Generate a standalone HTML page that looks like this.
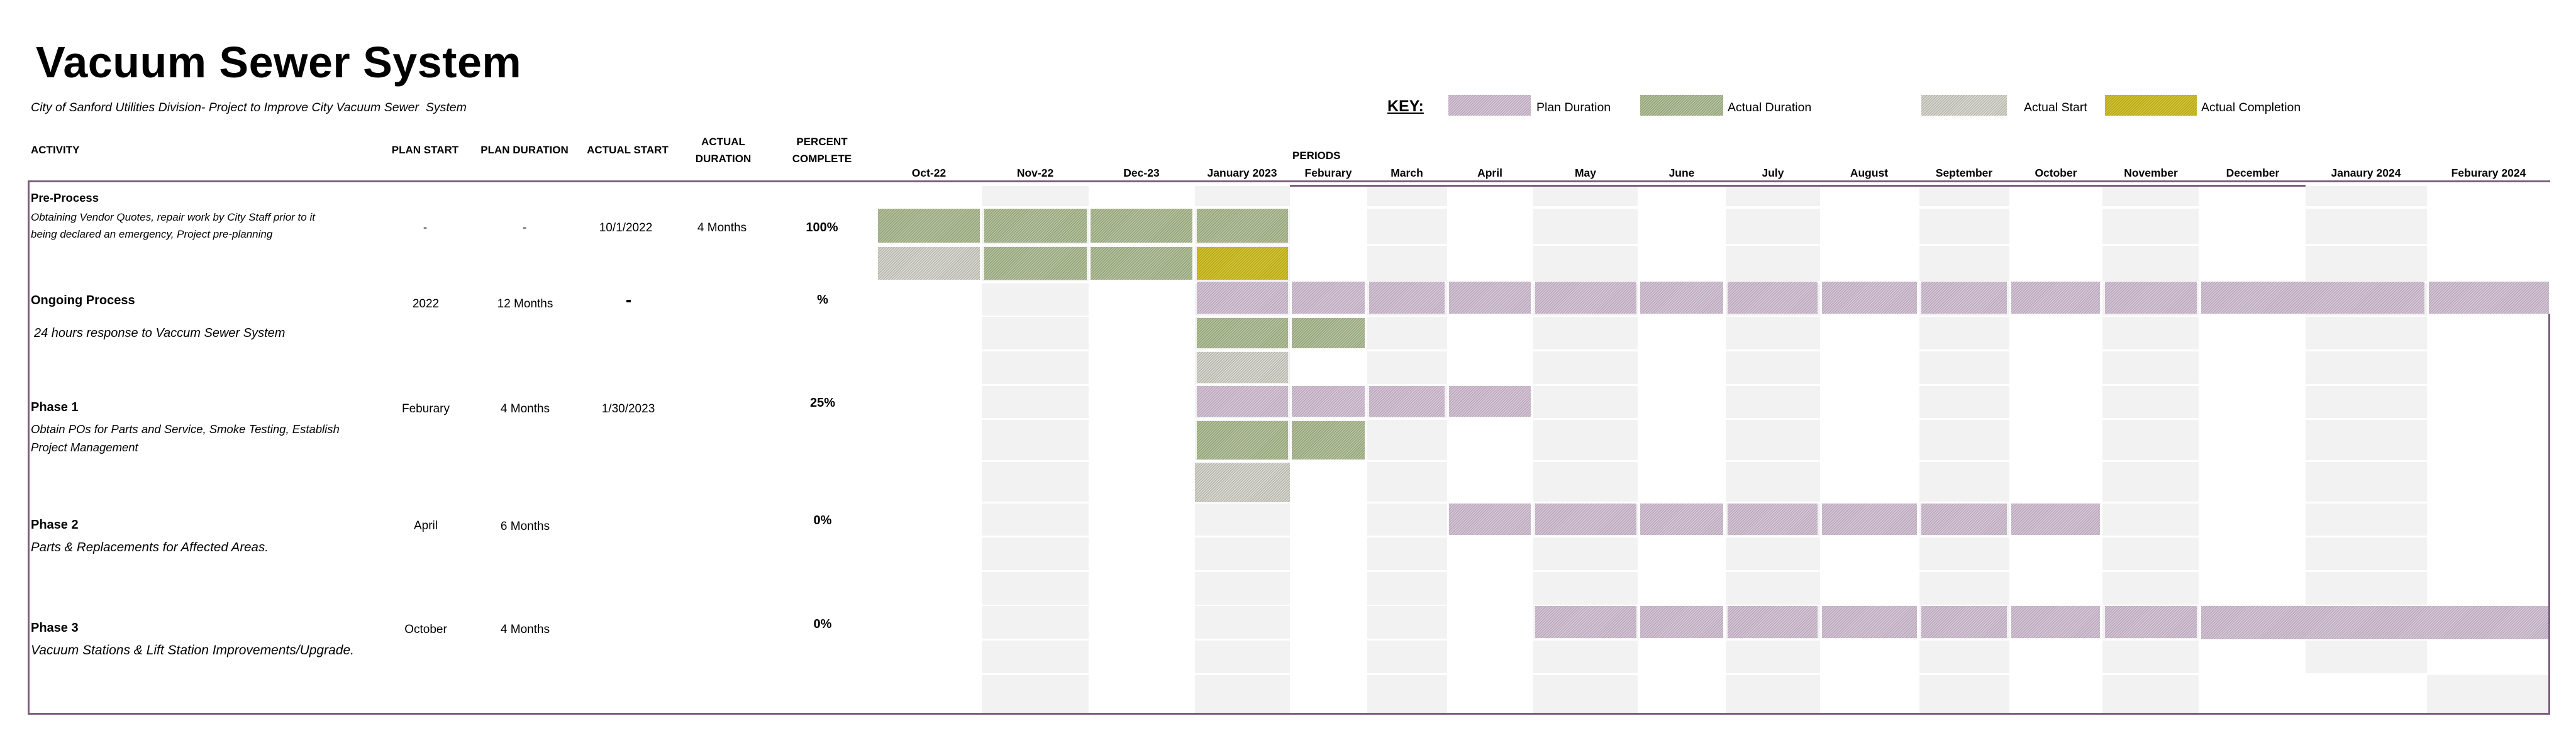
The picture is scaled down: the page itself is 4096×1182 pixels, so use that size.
<!DOCTYPE html>
<html>
<head>
<meta charset="utf-8">
<style>
html,body{margin:0;padding:0;background:#fff;}
#root{position:relative;width:4096px;height:1182px;overflow:hidden;background:#fff;font-family:"Liberation Sans",Arial,sans-serif;color:#000;}
.a{position:absolute;}
.t{position:absolute;white-space:nowrap;line-height:1;}
.ct{transform:translateX(-50%);}
.b{font-weight:bold;}
.i{font-style:italic;}
.g{position:absolute;background:#f2f2f2;}
.w{position:absolute;background:#fff;}
.ln{position:absolute;background:#7a5e7a;}
.pl{position:absolute;background:repeating-linear-gradient(135deg,#bba7bc 0 1.5px,#d6cad8 1.5px 3px);}
.ac{position:absolute;background:repeating-linear-gradient(135deg,#95a479 0 1.5px,#b9c4a3 1.5px 3px);}
.st{position:absolute;background:repeating-linear-gradient(135deg,#b6b6ad 0 1.5px,#dcdcd3 1.5px 3px);}
.co{position:absolute;background:repeating-linear-gradient(135deg,#b7a916 0 1.5px,#d3c53a 1.5px 3px);}
.hd{font-size:17px;font-weight:bold;}
.mo{font-size:17.5px;font-weight:bold;}
.v{font-size:19px;}
.pc{font-size:20px;font-weight:bold;}
</style>
</head>
<body>
<div id="root">

<!-- Title -->
<div class="t b" style="left:57px;top:64px;font-size:70px;letter-spacing:0.5px;">Vacuum Sewer System</div>
<div class="t i" style="left:49px;top:162px;font-size:19.5px;">City of Sanford Utilities Division- Project to Improve City Vacuum Sewer&nbsp; System</div>

<!-- Key -->
<div class="t b" style="left:2206px;top:157px;font-size:25px;text-decoration:underline;">KEY:</div>
<div class="pl" style="left:2303px;top:151px;width:131px;height:33px;"></div>
<div class="t" style="left:2443px;top:162px;font-size:19.5px;">Plan Duration</div>
<div class="ac" style="left:2608px;top:151px;width:132px;height:33px;"></div>
<div class="t" style="left:2747px;top:162px;font-size:19.5px;">Actual Duration</div>
<div class="st" style="left:3055px;top:151px;width:136px;height:33px;"></div>
<div class="t" style="left:3218px;top:162px;font-size:19.5px;">Actual Start</div>
<div class="co" style="left:3347px;top:151px;width:146px;height:33px;"></div>
<div class="t" style="left:3500px;top:162px;font-size:19.5px;">Actual Completion</div>

<!-- Headers -->
<div class="t hd" style="left:49px;top:230px;">ACTIVITY</div>
<div class="t hd ct" style="left:676px;top:230px;">PLAN START</div>
<div class="t hd ct" style="left:834px;top:230px;">PLAN DURATION</div>
<div class="t hd ct" style="left:998px;top:230px;">ACTUAL START</div>
<div class="t hd ct" style="left:1150px;top:217px;">ACTUAL</div>
<div class="t hd ct" style="left:1150px;top:244px;">DURATION</div>
<div class="t hd ct" style="left:1307px;top:217px;">PERCENT</div>
<div class="t hd ct" style="left:1307px;top:244px;">COMPLETE</div>

<div class="t b" style="left:2055px;top:239px;font-size:17px;">PERIODS</div>

<div class="t mo ct" style="left:1477px;top:267px;">Oct-22</div>
<div class="t mo ct" style="left:1646px;top:267px;">Nov-22</div>
<div class="t mo ct" style="left:1815px;top:267px;">Dec-23</div>
<div class="t mo ct" style="left:1975px;top:267px;">January 2023</div>
<div class="t mo ct" style="left:2112px;top:267px;">Feburary</div>
<div class="t mo ct" style="left:2237px;top:267px;">March</div>
<div class="t mo ct" style="left:2369px;top:267px;">April</div>
<div class="t mo ct" style="left:2521px;top:267px;">May</div>
<div class="t mo ct" style="left:2674px;top:267px;">June</div>
<div class="t mo ct" style="left:2819px;top:267px;">July</div>
<div class="t mo ct" style="left:2972px;top:267px;">August</div>
<div class="t mo ct" style="left:3123px;top:267px;">September</div>
<div class="t mo ct" style="left:3269px;top:267px;">October</div>
<div class="t mo ct" style="left:3420px;top:267px;">November</div>
<div class="t mo ct" style="left:3582px;top:267px;">December</div>
<div class="t mo ct" style="left:3762px;top:267px;">Janaury 2024</div>
<div class="t mo ct" style="left:3957px;top:267px;">Feburary 2024</div>

<!-- Gray columns -->
<div class="g" style="left:1561px;top:296px;width:170px;height:839px;"></div>
<div class="g" style="left:1900px;top:296px;width:151px;height:839px;"></div>
<div class="g" style="left:2174px;top:296px;width:127px;height:839px;"></div>
<div class="g" style="left:2438px;top:296px;width:166px;height:839px;"></div>
<div class="g" style="left:2744px;top:296px;width:150px;height:839px;"></div>
<div class="g" style="left:3052px;top:296px;width:143px;height:839px;"></div>
<div class="g" style="left:3343px;top:296px;width:153px;height:839px;"></div>
<div class="g" style="left:3666px;top:296px;width:193px;height:839px;"></div>

<!-- white row gaps -->
<div class="w" style="left:1390px;top:328px;width:2662px;height:4px;"></div>
<div class="w" style="left:1390px;top:388px;width:2662px;height:3px;"></div>
<div class="w" style="left:1390px;top:447px;width:2662px;height:4px;"></div>
<div class="w" style="left:1390px;top:502px;width:2662px;height:2px;"></div>
<div class="w" style="left:1390px;top:556px;width:2662px;height:3px;"></div>
<div class="w" style="left:1390px;top:611px;width:2662px;height:3px;"></div>
<div class="w" style="left:1390px;top:665px;width:2662px;height:3px;"></div>
<div class="w" style="left:1390px;top:732px;width:2662px;height:3px;"></div>
<div class="w" style="left:1390px;top:798px;width:2662px;height:3px;"></div>
<div class="w" style="left:1390px;top:852px;width:2662px;height:3px;"></div>
<div class="w" style="left:1390px;top:907px;width:2662px;height:3px;"></div>
<div class="w" style="left:1390px;top:962px;width:2662px;height:2px;"></div>
<div class="w" style="left:1390px;top:1016px;width:2662px;height:3px;"></div>
<div class="w" style="left:1390px;top:1071px;width:2662px;height:3px;"></div>
<!-- row 14 exceptions -->
<div class="w" style="left:3666px;top:1074px;width:193px;height:61px;"></div>
<div class="g" style="left:3859px;top:1074px;width:193px;height:61px;"></div>

<!-- Row 1: actual duration -->
<div class="ac" style="left:1396px;top:332px;width:162px;height:54px;"></div>
<div class="ac" style="left:1565px;top:332px;width:163px;height:54px;"></div>
<div class="ac" style="left:1734px;top:332px;width:162px;height:54px;"></div>
<div class="ac" style="left:1903px;top:332px;width:145px;height:54px;"></div>
<!-- Row 2 -->
<div class="st" style="left:1396px;top:393px;width:162px;height:52px;"></div>
<div class="ac" style="left:1565px;top:393px;width:163px;height:52px;"></div>
<div class="ac" style="left:1734px;top:393px;width:162px;height:52px;"></div>
<div class="co" style="left:1903px;top:393px;width:145px;height:52px;"></div>
<!-- Row 3: ongoing plan -->
<div class="pl" style="left:1903px;top:448px;width:145px;height:51px;"></div>
<div class="pl" style="left:2054px;top:448px;width:116px;height:51px;"></div>
<div class="pl" style="left:2177px;top:448px;width:120px;height:51px;"></div>
<div class="pl" style="left:2304px;top:448px;width:130px;height:51px;"></div>
<div class="pl" style="left:2441px;top:448px;width:161px;height:51px;"></div>
<div class="pl" style="left:2608px;top:448px;width:132px;height:51px;"></div>
<div class="pl" style="left:2747px;top:448px;width:143px;height:51px;"></div>
<div class="pl" style="left:2897px;top:448px;width:151px;height:51px;"></div>
<div class="pl" style="left:3055px;top:448px;width:136px;height:51px;"></div>
<div class="pl" style="left:3198px;top:448px;width:141px;height:51px;"></div>
<div class="pl" style="left:3347px;top:448px;width:146px;height:51px;"></div>
<div class="pl" style="left:3500px;top:448px;width:355px;height:51px;"></div>
<div class="pl" style="left:3862px;top:448px;width:191px;height:51px;"></div>
<!-- Row 4 -->
<div class="ac" style="left:1903px;top:506px;width:145px;height:48px;"></div>
<div class="ac" style="left:2054px;top:506px;width:116px;height:48px;"></div>
<!-- Row 5 -->
<div class="st" style="left:1903px;top:560px;width:145px;height:49px;"></div>
<!-- Row 6: phase 1 plan -->
<div class="pl" style="left:1903px;top:614px;width:145px;height:49px;"></div>
<div class="pl" style="left:2054px;top:614px;width:116px;height:49px;"></div>
<div class="pl" style="left:2177px;top:614px;width:120px;height:49px;"></div>
<div class="pl" style="left:2304px;top:614px;width:130px;height:49px;"></div>
<!-- Row 7 -->
<div class="ac" style="left:1903px;top:670px;width:145px;height:61px;"></div>
<div class="ac" style="left:2054px;top:670px;width:116px;height:61px;"></div>
<!-- Row 8 -->
<div class="st" style="left:1900px;top:737px;width:151px;height:62px;"></div>
<!-- Row 9: phase 2 plan -->
<div class="pl" style="left:2304px;top:801px;width:130px;height:50px;"></div>
<div class="pl" style="left:2441px;top:801px;width:161px;height:50px;"></div>
<div class="pl" style="left:2608px;top:801px;width:132px;height:50px;"></div>
<div class="pl" style="left:2747px;top:801px;width:143px;height:50px;"></div>
<div class="pl" style="left:2897px;top:801px;width:151px;height:50px;"></div>
<div class="pl" style="left:3055px;top:801px;width:136px;height:50px;"></div>
<div class="pl" style="left:3198px;top:801px;width:141px;height:50px;"></div>
<!-- Row 12: phase 3 plan -->
<div class="pl" style="left:2441px;top:964px;width:161px;height:51px;"></div>
<div class="pl" style="left:2608px;top:964px;width:132px;height:51px;"></div>
<div class="pl" style="left:2747px;top:964px;width:143px;height:51px;"></div>
<div class="pl" style="left:2897px;top:964px;width:151px;height:51px;"></div>
<div class="pl" style="left:3055px;top:964px;width:136px;height:51px;"></div>
<div class="pl" style="left:3198px;top:964px;width:141px;height:51px;"></div>
<div class="pl" style="left:3347px;top:964px;width:146px;height:51px;"></div>
<div class="pl" style="left:3500px;top:964px;width:553px;height:53px;"></div>

<!-- Lines / frame -->
<div class="ln" style="left:44px;top:287px;width:4011px;height:3px;"></div>
<div class="ln" style="left:2051px;top:294px;width:1615px;height:3px;"></div>
<div class="ln" style="left:44px;top:287px;width:3px;height:850px;"></div>
<div class="ln" style="left:44px;top:1134px;width:4011px;height:3px;"></div>
<div class="ln" style="left:4052px;top:499px;width:3px;height:638px;"></div>

<!-- Pre-Process -->
<div class="t b" style="left:49px;top:306px;font-size:18.5px;">Pre-Process</div>
<div class="t i" style="left:49px;top:337px;font-size:17px;">Obtaining Vendor Quotes, repair work by City Staff prior to it</div>
<div class="t i" style="left:49px;top:364px;font-size:17px;">being declared an emergency, Project pre-planning</div>
<div class="t v ct" style="left:676px;top:353px;">-</div>
<div class="t v ct" style="left:834px;top:353px;">-</div>
<div class="t v ct" style="left:995px;top:353px;">10/1/2022</div>
<div class="t v ct" style="left:1148px;top:353px;">4 Months</div>
<div class="t pc ct" style="left:1307px;top:352px;">100%</div>

<!-- Ongoing Process -->
<div class="t b" style="left:49px;top:468px;font-size:20px;">Ongoing Process</div>
<div class="t v ct" style="left:677px;top:474px;">2022</div>
<div class="t v ct" style="left:835px;top:474px;">12 Months</div>
<div class="a" style="left:996px;top:477px;width:7px;height:4px;background:#000;"></div>
<div class="t pc ct" style="left:1308px;top:467px;">%</div>
<div class="t i" style="left:54px;top:520px;font-size:20px;">24 hours response to Vaccum Sewer System</div>

<!-- Phase 1 -->
<div class="t b" style="left:49px;top:638px;font-size:20px;">Phase 1</div>
<div class="t v ct" style="left:677px;top:641px;">Feburary</div>
<div class="t v ct" style="left:835px;top:641px;">4 Months</div>
<div class="t v ct" style="left:999px;top:641px;">1/30/2023</div>
<div class="t pc ct" style="left:1308px;top:631px;">25%</div>
<div class="t i" style="left:49px;top:674px;font-size:18.5px;">Obtain POs for Parts and Service, Smoke Testing, Establish</div>
<div class="t i" style="left:49px;top:703px;font-size:18.5px;">Project Management</div>

<!-- Phase 2 -->
<div class="t b" style="left:49px;top:825px;font-size:20px;">Phase 2</div>
<div class="t v ct" style="left:677px;top:827px;">April</div>
<div class="t v ct" style="left:835px;top:828px;">6 Months</div>
<div class="t pc ct" style="left:1308px;top:818px;">0%</div>
<div class="t i" style="left:49px;top:861px;font-size:20.5px;">Parts &amp; Replacements for Affected Areas.</div>

<!-- Phase 3 -->
<div class="t b" style="left:49px;top:989px;font-size:20px;">Phase 3</div>
<div class="t v ct" style="left:677px;top:992px;">October</div>
<div class="t v ct" style="left:835px;top:992px;">4 Months</div>
<div class="t pc ct" style="left:1308px;top:983px;">0%</div>
<div class="t i" style="left:49px;top:1024px;font-size:21px;">Vacuum Stations &amp; Lift Station Improvements/Upgrade.</div>

</div>
</body>
</html>
